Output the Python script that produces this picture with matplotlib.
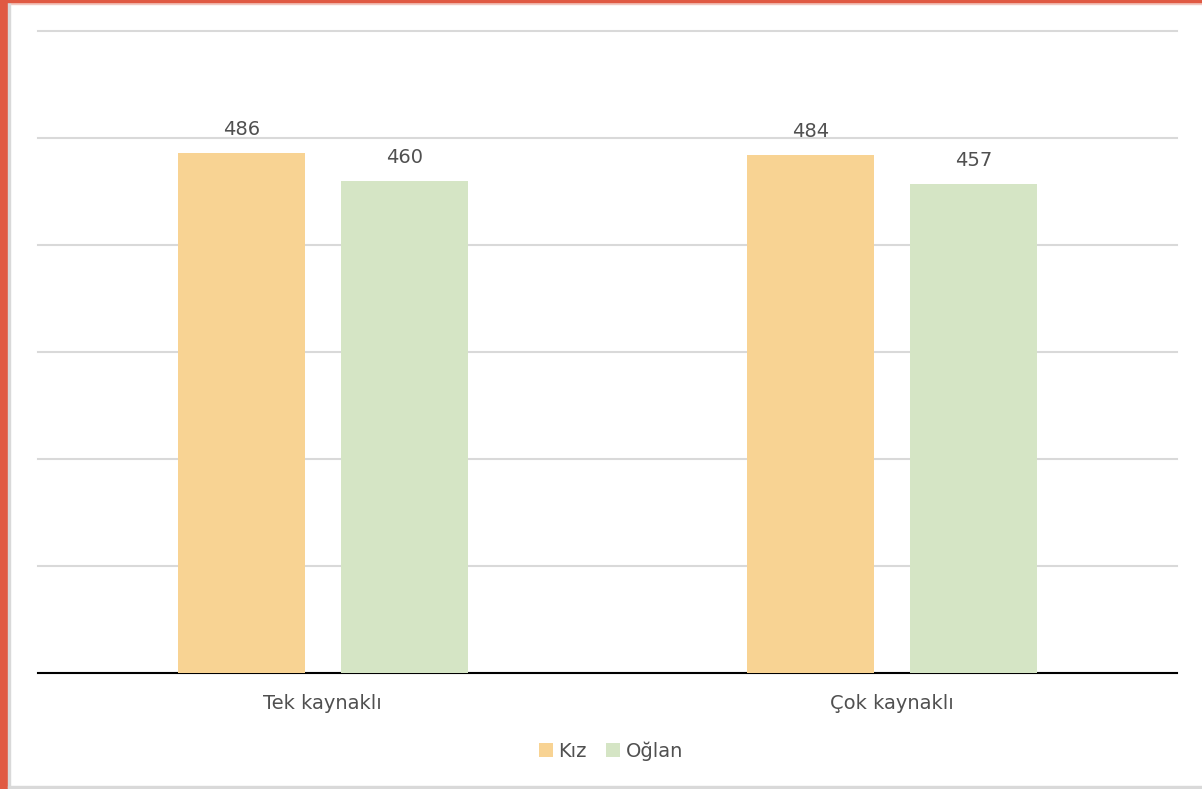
import matplotlib
matplotlib.use("Agg")
import matplotlib.pyplot as plt
from matplotlib.patches import Rectangle
import numpy as np

categories = ["Tek kaynaklı", "Çok kaynaklı"]
kiz = [486, 484]
oglan = [460, 457]
series_names = ["Kız", "Oğlan"]
colors = ["#F8D393", "#D5E5C5"]

plt.rcParams['font.family'] = ['DejaVu Sans']
text_color = "#505050"

fig = plt.figure(figsize=(12.02, 7.89), dpi=100)
ax = fig.add_axes([38/1202, 1-673/789, (1177-38)/1202, (673-31)/789])

x = np.arange(len(categories))
w = 0.223
off = 0.143
b1 = ax.bar(x - off, kiz, w, color=colors[0], label=series_names[0], zorder=3)
b2 = ax.bar(x + off, oglan, w, color=colors[1], label=series_names[1], zorder=3)
for bars, vals in ((b1, kiz), (b2, oglan)):
    for r, v in zip(bars, vals):
        ax.text(r.get_x() + r.get_width()/2, v + 13, str(v), ha='center', va='bottom',
                fontsize=14, color=text_color)

ax.set_xlim(-0.5, 1.5)
ax.set_ylim(0, 600)
ax.set_yticks(np.arange(0, 601, 100))
ax.yaxis.grid(True, color="#D9D9D9", linewidth=1.5, zorder=0)
for gl in ax.get_ygridlines():
    gl.set_clip_on(False)
ax.tick_params(axis='y', left=False, labelleft=False)
ax.tick_params(axis='x', length=0, pad=15, labelsize=14, labelcolor=text_color)
ax.set_xticks(x)
ax.set_xticklabels(categories)
for s in ['top', 'right', 'left']:
    ax.spines[s].set_visible(False)
ax.spines['bottom'].set_color('black')
ax.spines['bottom'].set_linewidth(1.5)
ax.set_axisbelow(True)

leg = fig.legend(loc='center', bbox_to_anchor=(611/1202, 1-751/789), ncol=2, frameon=False,
                 fontsize=14, handlelength=0.7, handleheight=0.7, handletextpad=0.3,
                 columnspacing=1.0, labelcolor=text_color)

# frame decorations
fig.patches.append(Rectangle((0, 0), 8/1202, 1, transform=fig.transFigure, color="#E05A43", zorder=10))
fig.patches.append(Rectangle((8/1202, 0), 2/1202, 1, transform=fig.transFigure, color="#D9D9D9", zorder=10))
fig.patches.append(Rectangle((0, 1-2/789), 1, 2/789, transform=fig.transFigure, color="#E05A43", zorder=10))
fig.patches.append(Rectangle((0, 1-4/789), 1, 2/789, transform=fig.transFigure, color="#F2C7BF", zorder=9))
fig.patches.append(Rectangle((8/1202, 1/789), 1, 2/789, transform=fig.transFigure, color="#D9D9D9", zorder=10))

fig.savefig("out.png", dpi=100)
